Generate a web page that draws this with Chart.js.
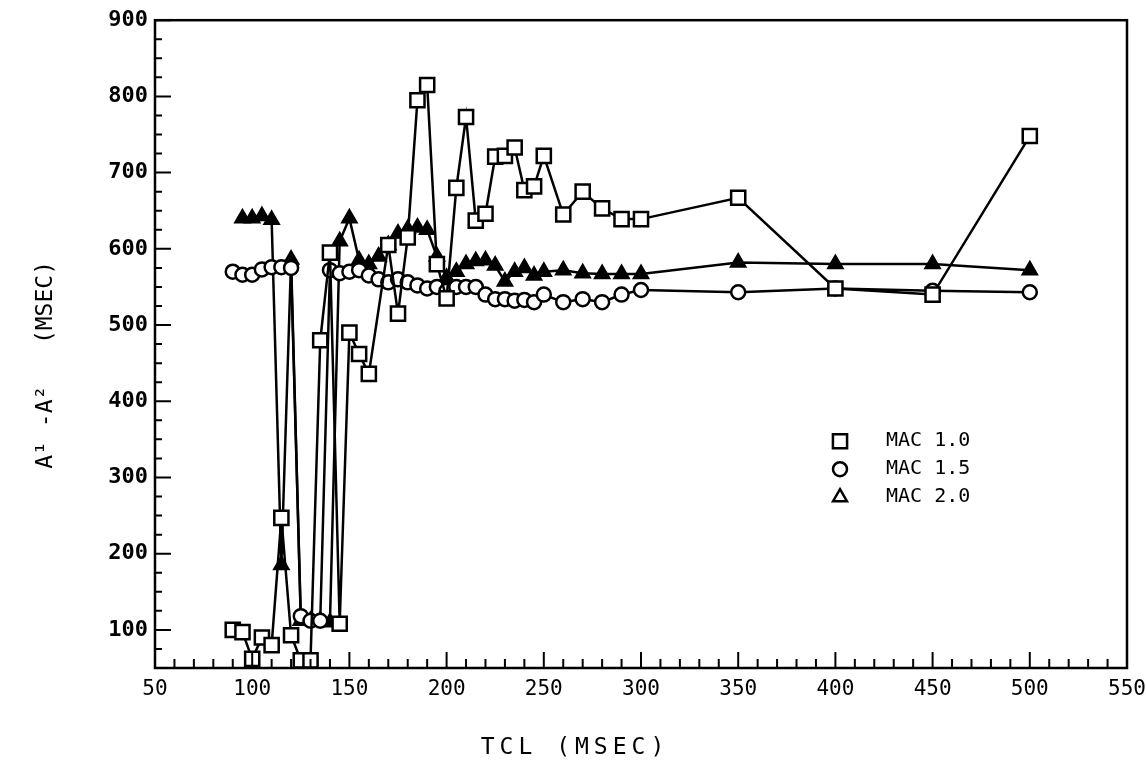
<!DOCTYPE html>
<html>
<head>
<meta charset="utf-8">
<script src="https://cdn.jsdelivr.net/npm/chart.js@4.4.0/dist/chart.umd.min.js"></script>
<style>
  html, body { margin: 0; padding: 0; background: #fff; }
</style>
</head>
<body>
<canvas id="chart" width="1146" height="769"></canvas>
<script>
// data (TCL in msec, A1-A2 in msec)
var tclMac10 = [90, 95, 100, 105, 110, 115, 120, 125, 130, 135, 140, 145, 150, 155, 160, 170, 175, 180, 185, 190,
                195, 200, 205, 210, 215, 220, 225, 230, 235, 240, 245, 250, 260, 270, 280, 290, 300, 350, 400, 450, 500];
var a1a2Mac10 = [100, 97, 62, 90, 80, 247, 93, 60, 60, 480, 595, 108, 490, 462, 436, 605, 515, 615, 795, 815,
                 580, 535, 680, 773, 637, 646, 721, 722, 733, 677, 682, 722, 645, 675, 653, 639, 639, 667, 548, 540, 748];

var tclMac15 = [90, 95, 100, 105, 110, 115, 120, 125, 130, 135, 140, 145, 150, 155, 160, 165, 170, 175, 180, 185, 190,
                195, 200, 205, 210, 215, 220, 225, 230, 235, 240, 245, 250, 260, 270, 280, 290, 300, 350, 400, 450, 500];
var a1a2Mac15 = [570, 566, 566, 573, 576, 576, 575, 118, 112, 112, 572, 568, 570, 572, 565, 560, 556, 560, 556, 552, 548,
                 550, 545, 550, 550, 550, 540, 534, 534, 532, 533, 530, 540, 530, 534, 530, 540, 546, 543, 548, 545, 543];

var tclMac20 = [95, 100, 105, 110, 115, 120, 125, 130, 135, 140, 145, 150, 155, 160, 165, 170, 175, 180, 185, 190,
                195, 200, 205, 210, 215, 220, 225, 230, 235, 240, 245, 250, 260, 270, 280, 290, 300, 350, 400, 450, 500];
var a1a2Mac20 = [640, 640, 643, 638, 185, 586, 112, 112, 112, 110, 610, 640, 585, 580, 590, 605, 620, 626, 628, 625,
                 590, 562, 570, 580, 584, 585, 578, 557, 570, 575, 565, 570, 572, 568, 567, 567, 567, 582, 580, 580, 572];

var seriesNames = ["MAC 1.0", "MAC 1.5", "MAC 2.0"];
var xTickValues = [50, 100, 150, 200, 250, 300, 350, 400, 450, 500, 550];
var yTickValues = [100, 200, 300, 400, 500, 600, 700, 800, 900];
var xTitle = "TCL (MSEC)";

function toPoints(xs, ys) {
    return xs.map(function (x, i) { return { x: x, y: ys[i] }; });
}

var monoFont = "'DejaVu Sans Mono', 'Liberation Mono', monospace";

// inward ticks + frame, like the plotter output
var frameTicks = {
    id: 'frameTicks',
    afterDraw: function (chart) {
        var ctx = chart.ctx, a = chart.chartArea;
        var xs = chart.scales.x, ys = chart.scales.y;
        ctx.save();
        ctx.strokeStyle = '#000';
        ctx.lineWidth = 2.5;
        ctx.strokeRect(a.left, a.top, a.right - a.left, a.bottom - a.top);
        ctx.lineWidth = 2;
        ctx.beginPath();
        for (var v = 50; v <= 550; v += 10) {
            var px = xs.getPixelForValue(v);
            var len = (v % 50 === 0) ? 16 : 9;
            ctx.moveTo(px, a.bottom);
            ctx.lineTo(px, a.bottom - len);
        }
        for (var w = 50; w <= 900; w += 25) {
            var py = ys.getPixelForValue(w);
            var l2 = (w % 100 === 0) ? 16 : 7;
            ctx.moveTo(a.left, py);
            ctx.lineTo(a.left + l2, py);
        }
        ctx.stroke();

        // x axis title, spaced out and a bit left of centre as in the original
        ctx.fillStyle = '#000';
        ctx.font = '23px ' + monoFont;
        ctx.letterSpacing = '5px';
        ctx.textAlign = 'center';
        ctx.textBaseline = 'middle';
        ctx.fillText(xTitle, a.left + 420, a.bottom + 80);
        ctx.restore();
    }
};

// legend sitting inside the plot
var innerLegend = {
    id: 'innerLegend',
    afterDraw: function (chart) {
        var ctx = chart.ctx, a = chart.chartArea;
        var mx = a.left + 685, tx = a.left + 731, y0 = a.top + 421, gap = 28;
        ctx.save();
        chart.data.datasets.forEach(function (ds, i) {
            var y = y0 + i * gap;
            ctx.strokeStyle = '#000';
            ctx.fillStyle = '#fff';
            ctx.lineWidth = 2.5;
            Chart.helpers.drawPoint(ctx, {
                pointStyle: ds.pointStyle, radius: ds.pointRadius, rotation: 0, borderWidth: 2.5
            }, mx, y);
            ctx.fillStyle = '#000';
            ctx.font = '20px ' + monoFont;
            ctx.textBaseline = 'middle';
            ctx.fillText(seriesNames[i], tx, y);
        });
        ctx.restore();
    }
};

var ctx = document.getElementById('chart');
var chart = new Chart(ctx, {
    type: 'scatter',
    data: {
        datasets: [{
            label: seriesNames[0],
            data: toPoints(tclMac10, a1a2Mac10),
            showLine: true,
            borderColor: '#000',
            borderWidth: 2.5,
            pointStyle: 'rect',
            pointRadius: 10,
            pointBorderWidth: 2.5,
            pointBackgroundColor: '#fff',
            pointBorderColor: '#000'
        }, {
            label: seriesNames[1],
            data: toPoints(tclMac15, a1a2Mac15),
            showLine: true,
            borderColor: '#000',
            borderWidth: 2.5,
            pointStyle: 'circle',
            pointRadius: 7,
            pointBorderWidth: 2.5,
            pointBackgroundColor: '#fff',
            pointBorderColor: '#000'
        }, {
            label: seriesNames[2],
            data: toPoints(tclMac20, a1a2Mac20),
            showLine: true,
            borderColor: '#000',
            borderWidth: 2.5,
            pointStyle: 'triangle',
            pointRadius: 8,
            pointBorderWidth: 2.5,
            pointBackgroundColor: '#000',
            pointBorderColor: '#000'
        }]
    },
    options: {
        responsive: false,
        animation: false,
        events: [],
        layout: { padding: { top: 17, right: 0, bottom: 0, left: 0 } },
        plugins: {
            legend: { display: false },
            tooltip: { enabled: false }
        },
        scales: {
            x: {
                type: 'linear',
                min: 50,
                max: 550,
                afterBuildTicks: function (s) { s.ticks = xTickValues.map(function (v) { return { value: v }; }); },
                afterFit: function (s) { s.height = 101; s.paddingRight = 19; s.paddingLeft = 0; },
                grid: { display: false, drawTicks: false },
                border: { display: false },
                ticks: { color: '#000', padding: 9, font: { family: monoFont, size: 21 } },
                title: { display: false }
            },
            y: {
                type: 'linear',
                min: 50,
                max: 900,
                afterBuildTicks: function (s) { s.ticks = yTickValues.map(function (v) { return { value: v }; }); },
                afterFit: function (s) { s.width = 155; },
                grid: { display: false, drawTicks: false },
                border: { display: false },
                ticks: { color: '#000', padding: 7, font: { family: monoFont, size: 22, weight: 'bold' } },
                title: {
                    display: true,
                    text: 'A\u00b9 -A\u00b2   (MSEC)   ',
                    color: '#000',
                    font: { family: monoFont, size: 23 },
                    padding: { top: 32, bottom: 0 }
                }
            }
        }
    },
    plugins: [frameTicks, innerLegend]
});
</script>
</body>
</html>
